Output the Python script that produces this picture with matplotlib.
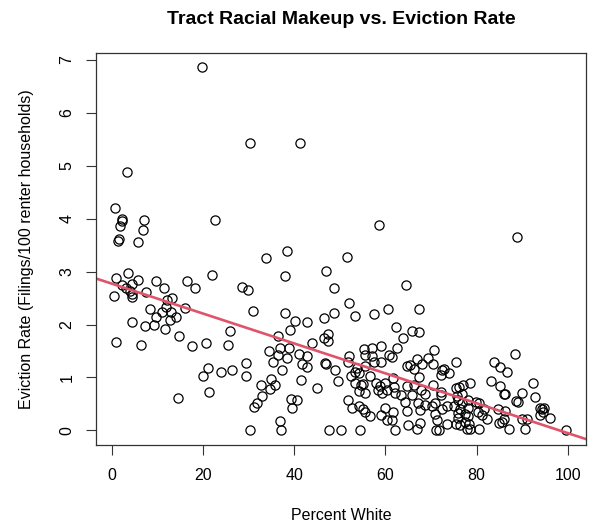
import matplotlib
matplotlib.use('Agg')
import matplotlib.pyplot as plt

# Percent white (x) and eviction rate (y)
pct_white = [
    19.8, 3.4, 0.7, 2.3, 2.2, 1.8, 1.5, 1.3, 7.0, 6.8, 5.8, 22.7, 22.0, 0.8, 3.6, 5.7, 9.7, 16.4,
    11.5, 18.2, 2.3, 4.3, 3.1, 3.9, 4.4, 4.4, 0.5, 7.4, 12.1, 13.1, 11.9, 8.4, 10.9, 12.9, 9.6, 14.0,
    16.0, 12.8, 4.5, 7.3, 9.3, 11.6, 14.6, 0.8, 6.3, 17.5, 20.6, 25.5, 25.8, 28.5, 29.8, 19.9, 21.1,
    23.9, 26.4, 29.5, 29.5, 21.2, 14.4, 30.3,
    30.3, 41.3, 58.6,
    33.8, 38.3, 51.6, 38.0, 47.0, 48.7, 64.5,
    31.0, 38.0, 40.2, 42.9, 46.6, 48.8, 52.0, 53.4, 57.4, 60.6, 62.3, 63.8,
    39.1, 36.5, 47.3, 46.6, 47.3, 43.8, 34.4, 36.9, 38.9, 36.5, 38.3, 35.4, 41.1, 42.7, 41.8, 42.7, 37.4,
    46.7, 47.0, 48.9, 41.5, 49.7, 34.9, 32.8, 34.6, 35.7, 44.9, 33.0, 31.9, 31.2, 39.2, 40.7, 39.6, 36.8,
    37.0, 47.7, 50.2, 54.5, 62.1,
    52.1, 51.7, 53.8, 55.2, 55.5, 57.1, 57.1, 59.0, 60.8, 61.4, 62.5, 57.5, 59.0, 55.5, 53.3, 52.5, 54.3,
    56.7, 55.0, 54.7, 53.3, 54.3, 55.6, 51.7, 52.7, 54.1, 55.0, 55.5, 56.6, 57.9, 58.9, 59.8, 58.4, 59.3,
    60.3, 61.6, 61.8, 62.0, 63.5, 64.3, 60.0, 61.6, 59.1, 60.4, 61.4, 64.7, 64.7, 64.7,
    88.9, 67.4, 65.9, 67.4, 70.7, 69.4, 66.9, 68.1, 65.4, 66.2, 70.5, 72.4, 72.9, 72.2, 73.9, 75.4, 67.4,
    66.2, 70.5, 65.8, 67.8, 68.6, 72.2, 72.2, 67.1, 68.7, 70.9, 70.2, 67.6, 72.4, 73.6, 70.9, 71.3, 64.9,
    67.6, 66.9, 71.0, 71.8, 73.6,
    75.4, 76.1, 77.1, 78.5, 75.6, 76.7, 76.0, 76.7, 78.2, 75.1, 76.3, 78.2, 79.8, 80.5, 75.9, 77.5, 76.0,
    78.2, 80.2, 75.4, 76.3, 77.5, 78.3, 77.8, 78.5, 80.5, 81.7, 82.2, 81.2, 83.2, 83.8, 85.1, 86.6, 85.1,
    86.0, 86.3, 84.6, 86.2, 84.9, 85.5, 86.0, 87.0, 88.4, 88.7, 89.1, 90.0, 90.0, 91.1, 90.7, 92.4, 92.9,
    93.8, 94.3, 94.8, 94.0, 94.5, 96.2, 99.6,
]
eviction_rate = [
    6.86, 4.87, 4.20, 4.00, 3.95, 3.85, 3.62, 3.57, 3.98, 3.79, 3.55, 3.97, 2.94, 2.87, 2.97, 2.84, 2.82, 2.82,
    2.68, 2.68, 2.75, 2.77, 2.69, 2.64, 2.57, 2.52, 2.54, 2.61, 2.47, 2.50, 2.33, 2.30, 2.23, 2.23, 2.15, 2.15,
    2.31, 2.08, 2.04, 1.97, 1.99, 1.92, 1.79, 1.67, 1.62, 1.60, 1.65, 1.62, 1.88, 2.71, 2.66, 1.02, 1.17,
    1.11, 1.14, 1.28, 1.02, 0.72, 0.62, 0.00,
    5.43, 5.43, 3.87,
    3.25, 3.38, 3.27, 2.91, 3.01, 2.68, 2.74,
    2.26, 2.21, 2.06, 2.04, 2.12, 2.21, 2.41, 2.16, 2.20, 2.29, 1.95, 1.75,
    1.89, 1.78, 1.83, 1.74, 1.69, 1.65, 1.50, 1.55, 1.56, 1.43, 1.37, 1.29, 1.45, 1.40, 1.26, 1.20, 1.15,
    1.28, 1.26, 1.15, 0.96, 0.94, 0.98, 0.85, 0.79, 0.85, 0.80, 0.65, 0.51, 0.45, 0.60, 0.58, 0.43, 0.18,
    0.00, 0.00, 0.00, 0.00, 0.00,
    1.40, 1.29, 1.18, 1.53, 1.42, 1.56, 1.40, 1.59, 1.42, 1.39, 1.56, 1.29, 1.29, 1.21, 1.10, 1.02, 1.09,
    1.02, 0.87, 0.85, 0.89, 0.74, 0.70, 0.57, 0.42, 0.47, 0.40, 0.35, 0.28, 0.89, 0.84, 0.89, 0.76, 0.71,
    0.77, 0.99, 0.82, 0.70, 0.67, 0.53, 0.43, 0.35, 0.29, 0.19, 0.19, 0.36, 1.21, 0.84,
    3.65, 2.30, 1.87, 1.85, 1.52, 1.37, 1.34, 1.26, 1.23, 1.16, 1.25, 1.15, 1.16, 1.04, 1.08, 1.29, 1.01,
    0.85, 0.85, 0.67, 0.77, 0.68, 0.72, 0.67, 0.52, 0.49, 0.52, 0.46, 0.38, 0.40, 0.47, 0.32, 0.19, 0.11,
    0.14, 0.02, 0.00, 0.00, 0.13,
    0.80, 0.82, 0.85, 0.89, 0.65, 0.68, 0.58, 0.52, 0.57, 0.46, 0.40, 0.43, 0.53, 0.52, 0.33, 0.32, 0.24,
    0.28, 0.35, 0.13, 0.11, 0.16, 0.13, 0.02, 0.02, 0.02, 0.40, 0.22, 0.30, 0.93, 1.29, 1.20, 1.10, 0.84,
    0.69, 0.68, 0.41, 0.36, 0.14, 0.16, 0.21, 0.02, 1.45, 0.55, 0.53, 0.70, 0.21, 0.22, 0.02, 0.90, 0.63,
    0.43, 0.40, 0.43, 0.30, 0.35, 0.24, 0.00,
]

# Fitted regression line
fit_intercept = 2.77
fit_slope = -0.0282

x_ticks = [0, 20, 40, 60, 80, 100]
y_ticks = [0, 1, 2, 3, 4, 5, 6, 7]

plt.rcParams['font.family'] = ['Liberation Sans', 'DejaVu Sans']

fig = plt.figure(figsize=(5.92, 5.24), dpi=100)
ax = fig.add_axes([96 / 592, 1 - 445 / 524, 490 / 592, 392 / 524])

ax.plot(pct_white, eviction_rate, linestyle='none', marker='o', ms=6.6,
        mfc='none', mec='black', mew=0.9)
ax.axline((0, fit_intercept), slope=fit_slope, color='#DF536B', lw=1.9)

ax.set_xlim(-3.5, 104)
ax.set_ylim(-0.274, 7.124)
ax.set_xticks(x_ticks)
ax.set_yticks(y_ticks)
ax.tick_params(direction='out', length=7.5, width=0.8, labelsize=11.5,
               color='#333333', labelcolor='black')
ax.tick_params(axis='x', pad=9)
ax.tick_params(axis='y', pad=8)
for lbl in ax.get_yticklabels():
    lbl.set_rotation(90)
    lbl.set_va('center')
for sp in ax.spines.values():
    sp.set_linewidth(0.9)
    sp.set_color('#333333')

fig.text(341 / 592, 1 - 20 / 524, 'Tract Racial Makeup vs. Eviction Rate',
         ha='center', va='center', fontsize=14, fontweight='bold')
fig.text(341 / 592, 1 - 516 / 524, 'Percent White', ha='center', va='center', fontsize=11.5)
fig.text(27 / 592, 1 - 249 / 524, 'Eviction Rate (Filings/100 renter households)',
         ha='center', va='center', rotation=90, fontsize=11.5)

fig.savefig('out.png', dpi=100)
